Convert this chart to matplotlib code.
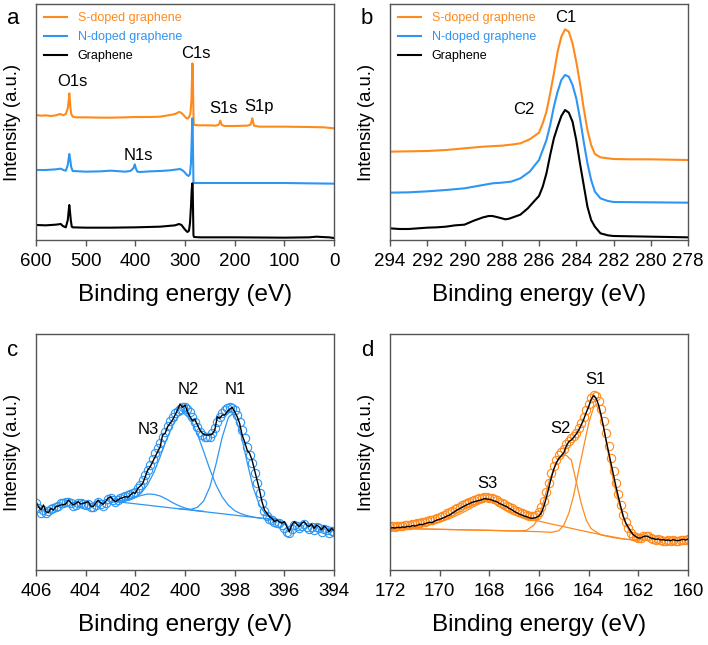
import numpy as np
import matplotlib
matplotlib.use("Agg")
import matplotlib.pyplot as plt

plt.rcParams['font.family'] = ['Liberation Sans', 'DejaVu Sans']

# =========================
# COLOURS
# =========================
ORANGE = '#FF8A1C'
BLUE = '#2E96F2'
SPINE = '#555555'

# =========================
# DATA - panel a (survey)
# =========================
a_s_x = [600, 590, 580, 570, 560, 552, 548, 545, 540, 536, 534, 533, 532, 531, 529, 526, 520, 500,
         470, 450, 420, 400, 370, 350, 330, 320, 312, 308, 303, 299, 295, 292, 289, 287, 286, 285,
         284.3, 283.5, 282.5, 281, 270, 250, 240, 233, 230, 229, 228, 226, 220, 200, 175, 168, 166,
         164.5, 163, 161, 150, 100, 50, 20, 0]
a_s_y = [375, 373, 374, 372, 374, 378, 376, 374, 378, 395, 420, 440, 425, 400, 378, 370, 368, 368,
         367, 367, 368, 369, 369, 370, 375, 378, 384, 382, 375, 368, 364, 368, 380, 420, 480, 530,
         510, 420, 350, 345, 344, 344, 343, 345, 352, 358, 353, 345, 342, 342, 343, 346, 355,
         365, 355, 343, 340, 340, 339, 338, 335]

a_n_x = [600, 580, 560, 550, 545, 540, 536, 533, 531, 529, 526, 500, 470, 450, 420, 410, 404, 401,
         399, 396, 390, 370, 350, 330, 315, 310, 304, 300, 296, 293, 290, 288, 286.5, 285.3, 284.5,
         283.8, 283, 282, 270, 200, 150, 100, 50, 0]
a_n_y = [210, 210, 212, 214, 210, 208, 225, 258, 240, 218, 207, 205, 206, 208, 205, 207, 215, 227,
         215, 205, 204, 206, 207, 209, 212, 213, 208, 202, 195, 192, 198, 230, 300, 365, 340,
         260, 175, 171, 171, 171, 171, 171, 170, 169]

a_g_x = [600, 580, 560, 550, 546, 540, 536, 534, 533, 532, 530, 528, 526, 500, 450, 400, 350, 320,
         312, 307, 302, 298, 295, 292, 290, 288, 286.5, 285.2, 284.5, 283.8, 283, 282, 270, 200,
         100, 50, 35, 25, 10, 0]
a_g_y = [45, 44, 46, 48, 42, 38, 60, 90, 105, 92, 60, 40, 38, 37, 37, 38, 40, 44,
         48, 45, 35, 28, 24, 28, 50, 100, 150, 170, 155, 90, 15, 9, 8, 8,
         7, 8, 10, 9, 8, 6]

a_labels = ['O1s', 'C1s', 'S1s', 'S1p', 'N1s']
a_label_x = [526, 278, 223, 150, 394]
a_label_y = [477, 560, 395, 402, 255]

# =========================
# DATA - panel b (C1s)
# =========================
b_s_x = [294, 293, 292, 291, 290, 289, 288, 287.5, 287, 286.5, 286, 285.8, 285.6, 285.4, 285.2,
         285.0, 284.8, 284.6, 284.4, 284.2, 284.0, 283.8, 283.6, 283.4, 283.2, 283.0, 282.7,
         282.3, 282, 281, 280, 279, 278]
b_s_y = [265, 266, 267, 270, 275, 280, 283, 286, 290, 302, 322, 350, 385, 440, 500,
         565, 610, 632, 625, 590, 535, 470, 395, 330, 285, 258, 248,
         245, 243, 242, 242, 241, 240]

b_n_x = [294, 293, 292, 291, 290, 289.5, 289, 288.5, 288, 287.5, 287, 286.5, 286, 285.6, 285.4,
         285.2, 285.0, 284.8, 284.6, 284.4, 284.2, 284.0, 283.8, 283.6, 283.4, 283.2, 283.0,
         282.7, 282.3, 282, 280, 278]
b_n_y = [142, 143, 146, 150, 155, 160, 165, 170, 172, 175, 185, 205, 240, 300, 345,
         400, 445, 480, 495, 490, 465, 425, 365, 295, 230, 180, 145,
         125, 117, 114, 113, 112]

b_g_x = [294, 293.5, 293, 292.5, 292, 291.5, 291, 290.5, 290, 289.5, 289, 288.7, 288.5, 288.2,
         288.0, 287.8, 287.6, 287.3, 287, 286.6, 286.2, 286.0, 285.8, 285.6, 285.4, 285.2, 285.0,
         284.8, 284.6, 284.4, 284.2, 284.0, 283.8, 283.6, 283.4, 283.2, 283.0, 282.7, 282.3, 282,
         280, 278]
b_g_y = [35, 33, 33, 35, 37, 38, 40, 44, 46, 58, 68, 72, 72, 68,
         65, 62, 64, 70, 76, 95, 120, 132, 160, 200, 255, 305, 340,
         372, 390, 382, 355, 300, 230, 165, 100, 60, 40, 20, 14, 12,
         10, 8]

b_labels = ['C1', 'C2']
b_label_x = [284.55, 286.8]
b_label_y = [668, 390]

legend_names = ['S-doped graphene', 'N-doped graphene', 'Graphene']

# =========================
# DATA - panel c (N1s)
# =========================
c_x = [406.0, 405.9, 405.8, 405.7, 405.6, 405.5, 405.4, 405.3, 405.2, 405.1,
       405.0, 404.9, 404.8, 404.7, 404.6, 404.5, 404.4, 404.3, 404.2, 404.1,
       404.0, 403.9, 403.8, 403.7, 403.6, 403.5, 403.4, 403.3, 403.2, 403.1,
       403.0, 402.9, 402.8, 402.7, 402.6, 402.5, 402.4, 402.3, 402.2, 402.1,
       402.0, 401.9, 401.8, 401.7, 401.6, 401.5, 401.4, 401.3, 401.2, 401.1,
       401.0, 400.9, 400.8, 400.7, 400.6, 400.5, 400.4, 400.3, 400.2, 400.1,
       400.0, 399.9, 399.8, 399.7, 399.6, 399.5, 399.4, 399.3, 399.2, 399.1,
       399.0, 398.9, 398.8, 398.7, 398.6, 398.5, 398.4, 398.3, 398.2, 398.1,
       398.0, 397.9, 397.8, 397.7, 397.6, 397.5, 397.4, 397.3, 397.2, 397.1,
       397.0, 396.9, 396.8, 396.7, 396.6, 396.5, 396.4, 396.3, 396.2, 396.1,
       396.0, 395.9, 395.8, 395.7, 395.6, 395.5, 395.4, 395.3, 395.2, 395.1,
       395.0, 394.9, 394.8, 394.7, 394.6, 394.5, 394.4, 394.3, 394.2, 394.1,
       394.0]
c_line = [205, 190, 180, 195, 175, 172, 185, 180, 190, 192,
          195, 196, 198, 210, 202, 195, 200, 205, 198, 200,
          202, 205, 192, 190, 200, 210, 202, 197, 205, 215,
          220, 210, 205, 210, 215, 217, 220, 218, 225, 232,
          230, 245, 252, 260, 280, 300, 310, 325, 340, 355,
          370, 405, 410, 430, 440, 450, 465, 480, 498, 488,
          495, 475, 460, 448, 452, 435, 420, 410, 405, 405,
          405, 408, 420, 460, 455, 465, 465, 475, 482, 488,
          475, 460, 440, 405, 385, 360, 350, 330, 300, 270,
          240, 205, 180, 170, 160, 155, 145, 150, 145, 140,
          145, 130, 115, 135, 145, 138, 130, 140, 145, 135,
          130, 138, 125, 135, 130, 120, 132, 125, 115, 125,
          118]
c_dots = [200, 185, 172, 180, 170, 178, 182, 185, 190, 192,
          200, 202, 205, 205, 200, 192, 195, 200, 202, 198,
          195, 198, 190, 188, 195, 205, 198, 192, 202, 212,
          215, 210, 205, 210, 215, 218, 222, 224, 228, 230,
          235, 245, 255, 270, 285, 300, 315, 332, 350, 365,
          380, 398, 415, 432, 448, 460, 470, 478, 484, 488,
          488, 484, 475, 460, 445, 430, 415, 405, 400, 398,
          400, 410, 425, 445, 460, 472, 480, 485, 488, 485,
          480, 465, 445, 420, 395, 370, 345, 320, 290, 260,
          230, 200, 178, 162, 154, 150, 145, 142, 140, 135,
          125, 115, 110, 122, 135, 132, 125, 132, 138, 130,
          122, 130, 120, 128, 125, 115, 122, 120, 112, 118,
          114]

c_base_x = [402.75, 396.3]
c_base_y = [205, 150]

c_n2_x = [402.75, 402.5, 402.25, 402.0, 401.75, 401.5, 401.25, 401.0, 400.75, 400.5, 400.25,
          400.05, 399.75, 399.5, 399.25, 399.0, 398.75, 398.5, 398.25, 398.0, 397.75, 397.5,
          397.25, 397.0, 396.75, 396.5, 396.3]
c_n2_y = [206, 207, 209, 217, 232, 257, 293, 340, 390, 434, 463,
          470, 449, 408, 356, 302, 255, 219, 194, 178, 169, 163,
          159, 156, 154, 152, 150]

c_n1_x = [400.25, 400.0, 399.75, 399.5, 399.25, 399.0, 398.75, 398.5, 398.25, 398.1, 398.0,
          397.75, 397.5, 397.25, 397.0, 396.75, 396.5, 396.3]
c_n1_y = [184, 182, 182, 188, 207, 249, 318, 399, 458, 468, 462,
          408, 324, 246, 194, 167, 156, 151]

c_n3_x = [402.75, 402.5, 402.25, 402.0, 401.75, 401.5, 401.25, 401.0, 400.75, 400.5, 400.25,
          400.0, 399.75, 399.5, 399.25]
c_n3_y = [208, 209, 213, 218, 224, 228, 227, 222, 213, 202, 193,
          186, 181, 178, 176]

c_labels = ['N2', 'N1', 'N3']
c_label_x = [399.87, 397.99, 401.48]
c_label_y = [540, 540, 420]

# =========================
# DATA - panel d (S2p)
# =========================
d_x = [172.0, 171.9, 171.8, 171.7, 171.6, 171.5, 171.4, 171.3, 171.2, 171.1,
       171.0, 170.9, 170.8, 170.7, 170.6, 170.5, 170.4, 170.3, 170.2, 170.1,
       170.0, 169.9, 169.8, 169.7, 169.6, 169.5, 169.4, 169.3, 169.2, 169.1,
       169.0, 168.9, 168.8, 168.7, 168.6, 168.5, 168.4, 168.3, 168.2, 168.1,
       168.0, 167.9, 167.8, 167.7, 167.6, 167.5, 167.4, 167.3, 167.2, 167.1,
       167.0, 166.9, 166.8, 166.7, 166.6, 166.5, 166.4, 166.3, 166.2, 166.1,
       166.0, 165.9, 165.8, 165.7, 165.6, 165.5, 165.4, 165.3, 165.2, 165.1,
       165.0, 164.9, 164.8, 164.7, 164.6, 164.5, 164.4, 164.3, 164.2, 164.1,
       164.0, 163.9, 163.8, 163.7, 163.6, 163.5, 163.4, 163.3, 163.2, 163.1,
       163.0, 162.9, 162.8, 162.7, 162.6, 162.5, 162.4, 162.3, 162.2, 162.1,
       162.0, 161.9, 161.8, 161.7, 161.6, 161.5, 161.4, 161.3, 161.2, 161.1,
       161.0, 160.9, 160.8, 160.7, 160.6, 160.5, 160.4, 160.3, 160.2, 160.1,
       160.0]
d_line = [125, 127, 126, 128, 127, 129, 128, 131, 130, 133,
          132, 134, 137, 136, 139, 141, 143, 142, 147, 150,
          152, 155, 158, 162, 165, 170, 175, 180, 184, 188,
          192, 196, 199, 203, 205, 207, 209, 211, 214, 213,
          212, 210, 207, 205, 200, 197, 193, 190, 185, 181,
          176, 172, 168, 165, 162, 160, 157, 155, 156, 158,
          162, 172, 192, 218, 248, 278, 303, 322, 335, 343,
          352, 372, 385, 390, 398, 408, 420, 435, 452, 472,
          490, 512, 523, 515, 495, 465, 428, 390, 355, 320,
          285, 250, 218, 188, 160, 140, 128, 115, 106, 100,
          96, 96, 100, 102, 100, 96, 94, 92, 93, 90,
          91, 89, 90, 88, 91, 89, 88, 90, 92, 90,
          93]
d_dots = [130, 131, 130, 132, 133, 133, 134, 135, 136, 137,
          138, 140, 141, 143, 145, 147, 149, 151, 154, 157,
          160, 163, 166, 170, 174, 178, 182, 186, 190, 194,
          198, 202, 205, 208, 211, 213, 215, 217, 218, 218,
          217, 215, 212, 209, 205, 201, 197, 193, 189, 185,
          181, 177, 173, 170, 167, 164, 162, 161, 162, 166,
          174, 188, 208, 235, 262, 290, 312, 330, 345, 355,
          362, 378, 388, 395, 402, 412, 425, 442, 460, 480,
          498, 515, 525, 522, 508, 482, 448, 410, 372, 335,
          298, 262, 228, 196, 166, 143, 126, 112, 103, 98,
          96, 97, 101, 103, 101, 96, 93, 91, 93, 90,
          88, 87, 89, 86, 89, 88, 86, 89, 91, 89,
          92]

d_s3_x = [172, 171.5, 171, 170.5, 170, 169.5, 169, 168.5, 168.1, 167.8, 167.5, 167.2, 166.8,
          166.2, 165.5, 165.0, 164.4, 163.5, 162.5, 162.0]
d_s3_y = [122, 124, 128, 134, 143, 157, 175, 195, 208, 200, 185, 172, 160,
          150, 138, 130, 120, 106, 92, 90]

d_s2_x = [172, 170, 168, 167, 166.5, 166.2, 166.0, 165.8, 165.6, 165.4, 165.2, 165.0, 164.9,
          164.7, 164.5, 164.3, 164.1, 163.9, 163.5, 163.0, 162.5, 162.0]
d_s2_y = [125, 122, 119, 117, 119, 135, 160, 210, 265, 305, 335, 345, 344,
          330, 265, 200, 150, 124, 105, 97, 92, 90]

d_s1_x = [172, 170, 168, 166, 165.5, 165.2, 165.0, 164.8, 164.6, 164.4, 164.2, 164.0, 163.8,
          163.72, 163.6, 163.4, 163.2, 163.0, 162.8, 162.6, 162.4, 162.2, 162.0, 161.8]
d_s1_y = [125, 122, 119, 115, 113, 118, 135, 170, 225, 300, 370, 440, 488,
          495, 485, 430, 345, 265, 205, 155, 122, 103, 93, 90]

d_labels = ['S1', 'S2', 'S3']
d_label_x = [163.72, 165.15, 168.08]
d_label_y = [570, 425, 260]

# =========================
# FIGURE
# =========================
fig = plt.figure(figsize=(7.08, 6.45), dpi=100)
W, H = 708, 645


def make_ax(left, top, right, bottom):
    return fig.add_axes([left / W, 1 - bottom / H, (right - left) / W, (bottom - top) / H])


ax_a = make_ax(36, 4, 334, 240)
ax_b = make_ax(390, 4, 688, 240)
ax_c = make_ax(36, 334, 334, 570)
ax_d = make_ax(390, 334, 688, 570)


def style(ax, xlim, ticks):
    ax.set_xlim(*xlim)
    ax.set_ylim(0, 708)
    ax.set_xticks(ticks)
    ax.set_yticks([])
    for sp in ax.spines.values():
        sp.set_color(SPINE)
        sp.set_linewidth(1.0)
    ax.tick_params(axis='x', direction='out', length=4, width=1.0, color=SPINE,
                   labelsize=13.5, pad=5)
    ax.set_xlabel('Binding energy (eV)', fontsize=17.5)
    ax.xaxis.set_label_coords(0.5, -0.185)
    ax.set_ylabel('Intensity (a.u.)', fontsize=13.3)
    ax.yaxis.set_label_coords(-0.052, 0.5)


# panel a
ax_a.plot(a_s_x, a_s_y, color=ORANGE, lw=1.5, label=legend_names[0])
ax_a.plot(a_n_x, a_n_y, color=BLUE, lw=1.5, label=legend_names[1])
ax_a.plot(a_g_x, a_g_y, color='black', lw=1.5, label=legend_names[2])
for t, x, y in zip(a_labels, a_label_x, a_label_y):
    ax_a.text(x, y, t, fontsize=12, ha='center', va='center')
style(ax_a, (600, 0), [600, 500, 400, 300, 200, 100, 0])

# panel b
ax_b.plot(b_s_x, b_s_y, color=ORANGE, lw=1.5, label=legend_names[0])
ax_b.plot(b_n_x, b_n_y, color=BLUE, lw=1.5, label=legend_names[1])
ax_b.plot(b_g_x, b_g_y, color='black', lw=1.5, label=legend_names[2])
for t, x, y in zip(b_labels, b_label_x, b_label_y):
    ax_b.text(x, y, t, fontsize=12, ha='center', va='center')
style(ax_b, (294, 278), list(range(294, 277, -2)))

for ax in (ax_a, ax_b):
    ax.legend(loc='upper left', bbox_to_anchor=(0.0, 1.0), frameon=False, fontsize=9,
              handlelength=1.8, handletextpad=0.9, labelspacing=0.55, borderpad=0.65,
              borderaxespad=0.0, labelcolor='linecolor')

# panel c
ax_c.plot(c_x, c_dots, 'o', mfc='none', mec=BLUE, ms=6, mew=0.8)
ax_c.plot(c_base_x, c_base_y, color=BLUE, lw=0.9)
ax_c.plot(c_n2_x, c_n2_y, color=BLUE, lw=0.9)
ax_c.plot(c_n1_x, c_n1_y, color=BLUE, lw=0.9)
ax_c.plot(c_n3_x, c_n3_y, color=BLUE, lw=0.9)
ax_c.plot(c_x, c_line, color='black', lw=1.0)
for t, x, y in zip(c_labels, c_label_x, c_label_y):
    ax_c.text(x, y, t, fontsize=12, ha='center', va='center')
style(ax_c, (406, 394), list(range(406, 393, -2)))

# panel d
ax_d.plot(d_x, d_dots, 'o', mfc='none', mec=ORANGE, ms=6, mew=0.8)
ax_d.plot(d_s3_x, d_s3_y, color=ORANGE, lw=0.9)
ax_d.plot(d_s2_x, d_s2_y, color=ORANGE, lw=0.9)
ax_d.plot(d_s1_x, d_s1_y, color=ORANGE, lw=0.9)
ax_d.plot(d_x, d_line, color='black', lw=1.0)
for t, x, y in zip(d_labels, d_label_x, d_label_y):
    ax_d.text(x, y, t, fontsize=12, ha='center', va='center')
style(ax_d, (172, 160), list(range(172, 159, -2)))

# panel letters
for letter, x, y in [('a', 13, 18), ('b', 367, 18), ('c', 13, 350), ('d', 367, 350)]:
    fig.text(x / W, 1 - y / H, letter, fontsize=16, ha='center', va='center')

fig.savefig('out.png', dpi=100)
